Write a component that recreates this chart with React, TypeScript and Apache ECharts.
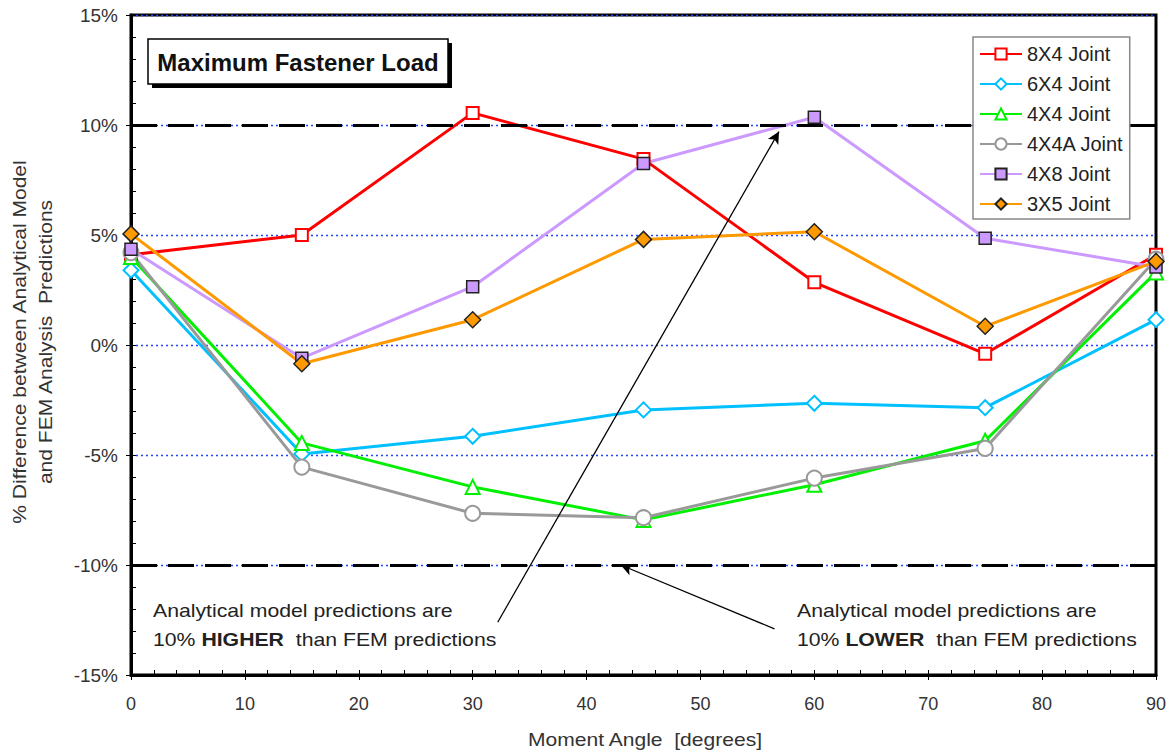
import React, { useEffect, useRef } from "react";
import * as echarts from "echarts";

const FONT = "Liberation Sans, Arial, sans-serif";

const angles = [0, 15, 30, 45, 60, 75, 90];
const seriesNames = ["8X4 Joint", "6X4 Joint", "4X4 Joint", "4X4A Joint", "4X8 Joint", "3X5 Joint"];
const joint8x4 = [4.1, 5.0, 10.55, 8.45, 2.85, -0.4, 4.1];
const joint6x4 = [3.4, -4.95, -4.15, -2.95, -2.65, -2.85, 1.15];
const joint4x4 = [4.0, -4.45, -6.45, -7.95, -6.35, -4.35, 3.3];
const joint4x4a = [4.2, -5.55, -7.65, -7.85, -6.05, -4.7, 3.9];
const joint4x8 = [4.35, -0.6, 2.65, 8.25, 10.35, 4.85, 3.55];
const joint3x5 = [5.05, -0.85, 1.15, 4.8, 5.15, 0.85, 3.8];
const limitLines = [10, -10];

const pairs = (vals: number[]) => angles.map((a, i) => [a, vals[i]]);

export default function App() {
  const ref = useRef<HTMLDivElement>(null);
  useEffect(() => {
    if (!ref.current) return;
    const chart = echarts.init(ref.current, undefined, { renderer: "svg" });

    const mk = (
      name: string,
      vals: number[],
      color: string,
      symbol: string,
      size: number,
      fill: string,
      border: string,
      extra: any = {}
    ) => ({
      name,
      type: "line",
      xAxisIndex: 0,
      yAxisIndex: 0,
      data: pairs(vals),
      symbol,
      symbolSize: size,
      showSymbol: true,
      lineStyle: { color, width: 3 },
      itemStyle: { color: fill, borderColor: border, borderWidth: 1.5 },
      emphasis: { disabled: true },
      ...extra,
    });

    const annText = (x: number, y: number, text: string, bold = false) => ({
      type: "text",
      x,
      y,
      z: 22,
      scaleX: 1.18,
      style: {
        text,
        fontSize: 18,
        fontFamily: FONT,
        fill: "#222",
        align: "left",
        verticalAlign: "middle",
        rich: bold ? { b: { fontSize: 18, fontWeight: "bold", fontFamily: FONT, fill: "#222" } } : undefined,
      },
    });

    const option: any = {
      animation: false,
      backgroundColor: "#fff",
      grid: {
        left: 131,
        right: 19,
        top: 15,
        bottom: 80,
        show: true,
        borderColor: "#000",
        borderWidth: 3,
        backgroundColor: "transparent",
      },
      xAxis: [
        {
          type: "value",
          min: 0,
          max: 90,
          interval: 10,
          position: "bottom",
          axisLine: { show: true, onZero: false, lineStyle: { color: "#000", width: 3 } },
          axisTick: { show: true, inside: false, length: 5, lineStyle: { color: "#000", width: 1 } },
          axisLabel: { fontSize: 18, color: "#333", fontFamily: FONT, margin: 20 },
          splitLine: { show: false },
        },
        {
          type: "value",
          min: 0,
          max: 90,
          interval: 2,
          position: "bottom",
          axisLine: { show: false, onZero: false },
          axisTick: { show: true, inside: true, length: 5, lineStyle: { color: "#000", width: 1 } },
          axisLabel: { show: false },
          splitLine: { show: false },
        },
      ],
      yAxis: [
        {
          type: "value",
          min: -15,
          max: 15,
          interval: 5,
          position: "left",
          axisLine: { show: true, onZero: false, lineStyle: { color: "#000", width: 3 } },
          axisTick: { show: true, inside: false, length: 5, lineStyle: { color: "#000", width: 1 } },
          axisLabel: { fontSize: 19, color: "#333", fontFamily: FONT, margin: 13, formatter: "{value}%" },
          splitLine: { show: true, lineStyle: { color: "#1f45ff", width: 1.3, opacity: 1, type: [2, 3] } },
        },
        {
          type: "value",
          min: -15,
          max: 15,
          interval: 1,
          position: "left",
          axisLine: { show: false, onZero: false },
          axisTick: { show: true, inside: true, length: 5, lineStyle: { color: "#000", width: 1 } },
          axisLabel: { show: false },
          splitLine: { show: false },
        },
      ],
      legend: {
        data: seriesNames,
        orient: "vertical",
        left: 973,
        top: 37,
        padding: [6, 6, 4, 6],
        itemWidth: 42,
        itemHeight: 14,
        itemGap: 8,
        backgroundColor: "#fff",
        borderColor: "#888",
        borderWidth: 1.5,
        textStyle: { fontSize: 20, lineHeight: 22, color: "#222", fontFamily: FONT },
        z: 10,
      },
      series: [
        mk("8X4 Joint", joint8x4, "#ff0000", "emptyRect", 12, "#ff0000", "#ff0000", {
          itemStyle: { color: "#ff0000", borderWidth: 1.5 },
          markLine: {
            silent: true,
            symbol: ["none", "none"],
            label: { show: false },
            lineStyle: { color: "#000", width: 3, type: [26, 11] },
            data: limitLines.map((v) => ({ yAxis: v })),
          },
        }),
        mk("6X4 Joint", joint6x4, "#00c0ff", "emptyDiamond", 15, "#00c0ff", "#00c0ff", {
          itemStyle: { color: "#00c0ff", borderWidth: 1.5 },
        }),
        mk("4X4 Joint", joint4x4, "#00f000", "emptyTriangle", 14, "#00f000", "#00f000", {
          itemStyle: { color: "#00f000", borderWidth: 1.5 },
        }),
        mk("4X4A Joint", joint4x4a, "#999999", "emptyCircle", 15, "#999999", "#999999", {
          itemStyle: { color: "#999999", borderWidth: 1.5 },
        }),
        mk("4X8 Joint", joint4x8, "#cc99ff", "rect", 12, "#cc99ff", "#222"),
        mk("3X5 Joint", joint3x5, "#ff9900", "diamond", 16, "#ff9900", "#222", {
          markLine: {
            silent: true,
            symbol: ["none", "arrow"],
            symbolSize: [9, 12],
            label: { show: false },
            lineStyle: { color: "#000", width: 1.3, type: "solid" },
            data: [
              [{ coord: [32.2, -12.6] }, { coord: [56.9, 9.7] }],
              [{ coord: [56.5, -12.9] }, { coord: [43.0, -10.0] }],
            ],
          },
        }),
      ],
      graphic: [
        { type: "rect", shape: { x: 152, y: 43, width: 300, height: 45 }, style: { fill: "#000" }, z: 20 },
        {
          type: "rect",
          shape: { x: 148, y: 39, width: 300, height: 45 },
          style: { fill: "#fff", stroke: "#000", lineWidth: 1.5 },
          z: 21,
        },
        {
          type: "text",
          x: 298,
          y: 62,
          z: 22,
          style: {
            text: "Maximum Fastener Load",
            fontSize: 24,
            fontWeight: "bold",
            fontFamily: FONT,
            fill: "#111",
            align: "center",
            verticalAlign: "middle",
          },
        },
        annText(153, 611, "Analytical model predictions are"),
        annText(153, 640, "10% {b|HIGHER}  than FEM predictions", true),
        annText(797, 611, "Analytical model predictions are"),
        annText(797, 640, "10% {b|LOWER}  than FEM predictions", true),
        {
          type: "text",
          x: 645,
          y: 740,
          z: 22,
          scaleX: 1.17,
          style: {
            text: "Moment Angle  [degrees]",
            fontSize: 18,
            fontFamily: FONT,
            fill: "#333",
            align: "center",
            verticalAlign: "middle",
          },
        },
        {
          type: "text",
          x: 33,
          y: 342,
          rotation: Math.PI / 2,
          scaleX: 1.17,
          z: 22,
          style: {
            text: "% Difference between Analytical Model\nand FEM Analysis  Predictions",
            fontSize: 18,
            lineHeight: 26,
            fontFamily: FONT,
            fill: "#333",
            align: "center",
            verticalAlign: "middle",
          },
        },
      ],
    };

    chart.setOption(option);
    return () => chart.dispose();
  }, []);

  return (
    <div
      ref={ref}
      style={{ position: "absolute", left: 0, top: 0, width: 1175, height: 755, background: "#fff" }}
    />
  );
}
